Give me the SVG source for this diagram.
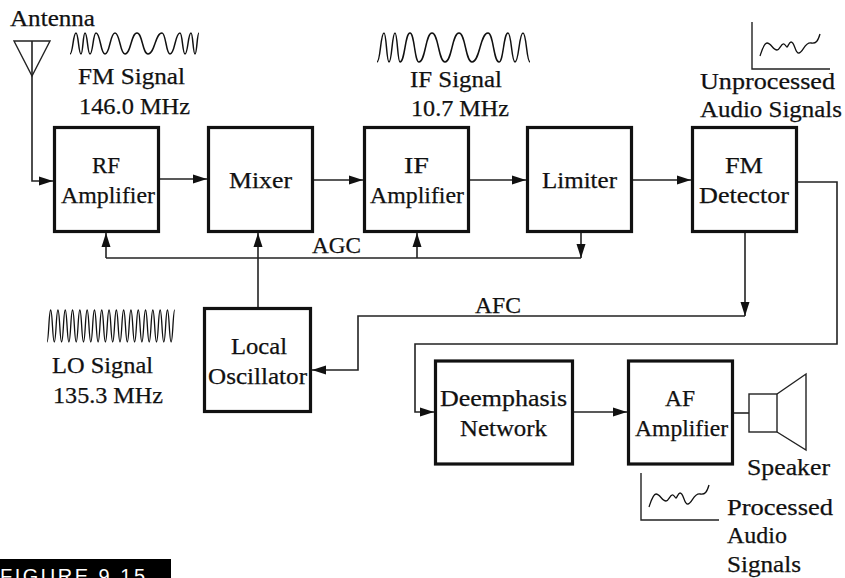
<svg xmlns="http://www.w3.org/2000/svg" width="845" height="578" viewBox="0 0 845 578">
<style>
text{font-family:"Liberation Serif",serif;font-size:24px;fill:#111;stroke:#111;stroke-width:.25}
.b{fill:#fff;stroke:#111;stroke-width:3.2}
.c{fill:none;stroke:#222;stroke-width:1.6}
.a{fill:none;stroke:#222;stroke-width:1.6;marker-end:url(#ah)}
.w{fill:none;stroke:#111;stroke-width:1.5}
.s{fill:none;stroke:#111;stroke-width:1.3}
.t{fill:none;stroke:#222;stroke-width:1.4}
</style>
<defs>
<marker id="ah" markerUnits="userSpaceOnUse" markerWidth="15" markerHeight="10" refX="14" refY="5" orient="auto"><path d="M0 .5L14 5L0 9.500z" fill="#111"/></marker>
<path id="scope" d="M760 56C762 50 764 43 767 43C771 43 773 50 777 50C780 50 781 43 784 44C786 45 786 47 787 47C788 47 789 42 791 42C795 42 795 54 799 53C803 52 805 42 811 43C816 44 818 41 820 34"/>
</defs>
<g id="connectors">
<path class="a" d="M32 41V181H53"/>
<path class="a" d="M159 179H207"/>
<path class="a" d="M313 180H363"/>
<path class="a" d="M470 180H526"/>
<path class="a" d="M632 180H691"/>
<path class="a" d="M106 258V233"/>
<path class="c" d="M106 258H581"/>
<path class="a" d="M258 308V233"/>
<path class="a" d="M417 258V233"/>
<path class="a" d="M581 233V258"/>
<path class="a" d="M745 233V316"/>
<path class="a" d="M745 316H358V370H312"/>
<path class="a" d="M798 182H837V344H415V412H434"/>
<path class="a" d="M574 412H627"/>
<path class="c" d="M733 413H749"/>
</g>
<g id="antenna">
<path class="t" d="M14 41H50L32 76Z"/>
<text x="10" y="26" textLength="85" lengthAdjust="spacingAndGlyphs">Antenna</text>
</g>
<g id="rf-amplifier"><rect class="b" x="54.500" y="127.500" width="104" height="104"/><text x="92" y="173" textLength="28" lengthAdjust="spacingAndGlyphs">RF</text><text x="61" y="203" textLength="94" lengthAdjust="spacingAndGlyphs">Amplifier</text></g>
<g id="mixer"><rect class="b" x="208.500" y="127.500" width="104" height="104"/><text x="229" y="188" textLength="63" lengthAdjust="spacingAndGlyphs">Mixer</text></g>
<g id="if-amplifier"><rect class="b" x="364.500" y="127.500" width="104" height="104"/><text x="404" y="173" textLength="25" lengthAdjust="spacingAndGlyphs">IF</text><text x="370" y="203" textLength="94" lengthAdjust="spacingAndGlyphs">Amplifier</text></g>
<g id="limiter"><rect class="b" x="527.500" y="127.500" width="104" height="104"/><text x="542" y="188" textLength="75" lengthAdjust="spacingAndGlyphs">Limiter</text></g>
<g id="fm-detector"><rect class="b" x="692.500" y="127.500" width="104" height="104"/><text x="725" y="173" textLength="38" lengthAdjust="spacingAndGlyphs">FM</text><text x="699" y="203" textLength="90" lengthAdjust="spacingAndGlyphs">Detector</text></g>
<g id="local-oscillator"><rect class="b" x="204.500" y="308.500" width="106" height="103"/><text x="231" y="354" textLength="56" lengthAdjust="spacingAndGlyphs">Local</text><text x="208" y="384" textLength="99" lengthAdjust="spacingAndGlyphs">Oscillator</text></g>
<g id="deemphasis-network"><rect class="b" x="435.500" y="361" width="137" height="103"/><text x="440" y="406" textLength="127" lengthAdjust="spacingAndGlyphs">Deemphasis</text><text x="460" y="436" textLength="87" lengthAdjust="spacingAndGlyphs">Network</text></g>
<g id="af-amplifier"><rect class="b" x="628.500" y="361" width="104" height="103"/><text x="665" y="406" textLength="30" lengthAdjust="spacingAndGlyphs">AF</text><text x="635" y="436" textLength="93" lengthAdjust="spacingAndGlyphs">Amplifier</text></g>
<g id="speaker">
<rect class="t" x="749" y="394" width="28" height="38"/>
<path class="t" d="M777 394L806 374V450L777 432"/>
<text x="747" y="475" textLength="83" lengthAdjust="spacingAndGlyphs">Speaker</text>
</g>
<g id="fm-signal">
<path class="w" d="M70 54C73 54 73 33 76 33C78.500 33 78.500 54 81 54C83 54 83 33 85 33C87.500 33 87.500 54 90 54C93 54 93 33 96 33C100.500 33 100.500 54 105 54C110 54 110 33 115 33C120 33 120 54 125 54C131 54 131 33 137 33C142.500 33 142.500 54 148 54C155 54 155 33 162 33C166 33 166 54 170 54C175 54 175 33 180 33C182.500 33 182.500 54 185 54C188 54 188 33 191 33C193 33 193 54 195 54C197 54 197 33 199 33"/>
<text x="78" y="84" textLength="107" lengthAdjust="spacingAndGlyphs">FM Signal</text>
<text x="79" y="114" textLength="111" lengthAdjust="spacingAndGlyphs">146.0 MHz</text>
</g>
<g id="if-signal">
<path class="w" d="M377 62C380.500 62 380.500 33 384 33C386.500 33 386.500 62 389 62C392 62 392 33 395 33C397.500 33 397.500 62 400 62C405 62 405 33 410 33C414.500 33 414.500 62 419 62C425.500 62 425.500 33 432 33C438.500 33 438.500 62 445 62C452 62 452 33 459 33C465.500 33 465.500 62 472 62C480 62 480 33 488 33C493.500 33 493.500 62 499 62C503.500 62 503.500 33 508 33C511.500 33 511.500 62 515 62C519 62 519 33 523 33C526.500 33 526.500 62 530 62"/>
<text x="410" y="87" textLength="92" lengthAdjust="spacingAndGlyphs">IF Signal</text>
<text x="411" y="116" textLength="98" lengthAdjust="spacingAndGlyphs">10.7 MHz</text>
</g>
<g id="lo-signal">
<path class="s" d="M47 342c1.800 0 1.850-32 3.650-32c1.800 0 1.850 32 3.650 32c1.800 0 1.850-32 3.650-32c1.800 0 1.850 32 3.650 32c1.800 0 1.850-32 3.650-32c1.800 0 1.850 32 3.650 32c1.800 0 1.850-32 3.650-32c1.800 0 1.850 32 3.650 32c1.800 0 1.850-32 3.650-32c1.800 0 1.850 32 3.650 32c1.800 0 1.850-32 3.650-32c1.800 0 1.850 32 3.650 32c1.800 0 1.850-32 3.650-32c1.800 0 1.850 32 3.650 32c1.800 0 1.850-32 3.650-32c1.800 0 1.850 32 3.650 32c1.800 0 1.850-32 3.650-32c1.800 0 1.850 32 3.650 32c1.800 0 1.850-32 3.650-32c1.800 0 1.850 32 3.650 32c1.800 0 1.850-32 3.650-32c1.800 0 1.850 32 3.650 32c1.800 0 1.850-32 3.650-32c1.800 0 1.850 32 3.650 32c1.800 0 1.850-32 3.650-32c1.800 0 1.850 32 3.650 32c1.800 0 1.850-32 3.650-32c1.800 0 1.850 32 3.650 32c1.800 0 1.850-32 3.650-32c1.800 0 1.850 32 3.650 32c1.800 0 1.850-32 3.650-32c1.800 0 1.850 32 3.650 32c1.800 0 1.850-32 3.650-32c1.800 0 1.850 32 3.650 32c1.800 0 1.850-32 3.650-32"/>
<text x="52" y="373" textLength="101" lengthAdjust="spacingAndGlyphs">LO Signal</text>
<text x="53" y="403" textLength="110" lengthAdjust="spacingAndGlyphs">135.3 MHz</text>
</g>
<g id="unprocessed-audio">
<path class="t" d="M752 22V69H830"/>
<use href="#scope" class="s"/>
<text x="700" y="89" textLength="135" lengthAdjust="spacingAndGlyphs">Unprocessed</text>
<text x="700" y="117" textLength="142" lengthAdjust="spacingAndGlyphs">Audio Signals</text>
</g>
<g id="processed-audio">
<path class="t" d="M641 473V520H719"/>
<use href="#scope" class="s" transform="translate(-111 451)"/>
<text x="727" y="515" textLength="106" lengthAdjust="spacingAndGlyphs">Processed</text>
<text x="727" y="543" textLength="60" lengthAdjust="spacingAndGlyphs">Audio</text>
<text x="727" y="572" textLength="74" lengthAdjust="spacingAndGlyphs">Signals</text>
</g>
<text x="312" y="253" textLength="49" lengthAdjust="spacingAndGlyphs">AGC</text>
<text x="475" y="313" textLength="46" lengthAdjust="spacingAndGlyphs">AFC</text>
<g id="figure-label">
<rect x="0" y="559" width="171" height="19" fill="#000"/>
<text x="0" y="583" style="font-family:'Liberation Sans',sans-serif;font-size:20px;fill:#fff;stroke:none;letter-spacing:2.5px">FIGURE 9.15</text>
</g>
</svg>
